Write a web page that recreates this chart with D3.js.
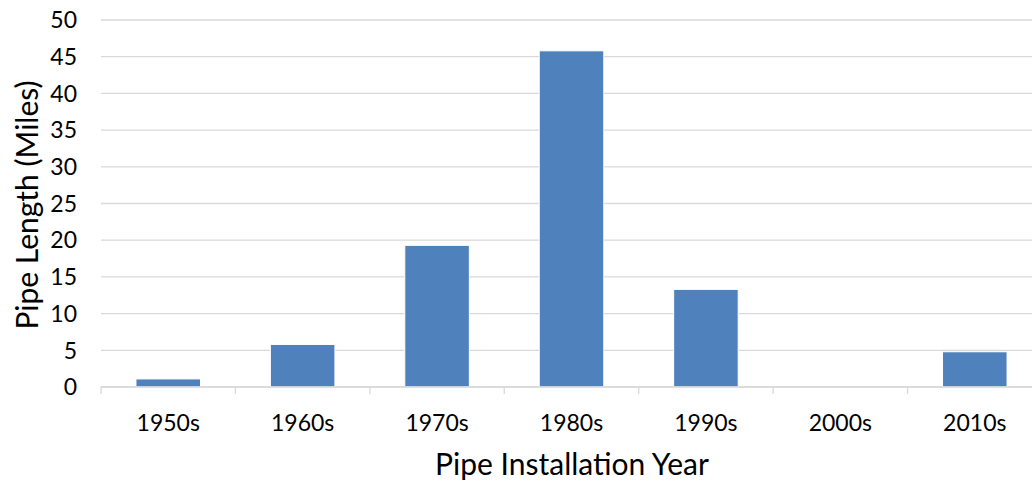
<!DOCTYPE html>
<meta charset="utf-8">
<style>
    body { margin: 0; background: #fff; }
    text { font-family: Lato, "Open Sans", sans-serif; fill: #000; }
    .grid line { stroke: #d9d9d9; stroke-width: 1.3px; }
</style>
<script src="https://d3js.org/d3.v7.min.js"></script>
<svg width="1032" height="483"></svg>
<script>
    var decades = ["1950s", "1960s", "1970s", "1980s", "1990s", "2000s", "2010s"];
    var miles = [1.1, 5.8, 19.3, 45.8, 13.3, 0, 4.8];
    var yTicks = [0, 5, 10, 15, 20, 25, 30, 35, 40, 45, 50];

    var svg = d3.select("svg"),
        plotLeft = 101, plotRight = 1042, plotTop = 20, plotBottom = 387;

    var x = d3.scaleBand()
        .domain(decades)
        .range([plotLeft, plotRight])
        .paddingInner(0.52)
        .paddingOuter(0.26);

    var y = d3.scaleLinear().domain([0, 50]).range([plotBottom, plotTop]);

    // horizontal gridlines
    svg.append("g").attr("class", "grid")
        .selectAll("line")
        .data(yTicks)
        .enter().append("line")
        .attr("x1", plotLeft)
        .attr("x2", plotRight)
        .attr("y1", function (d) { return y(d); })
        .attr("y2", function (d) { return y(d); });

    // y labels
    svg.append("g")
        .selectAll("text")
        .data(yTicks)
        .enter().append("text")
        .attr("x", 77)
        .attr("y", function (d) { return y(d); })
        .attr("dy", "0.36em")
        .attr("text-anchor", "end")
        .style("font-size", "23px")
        .text(function (d) { return d; });

    // bars
    svg.append("g")
        .selectAll("rect")
        .data(miles)
        .enter().append("rect")
        .attr("x", function (d, i) { return x(decades[i]); })
        .attr("width", x.bandwidth())
        .attr("y", function (d) { return y(d); })
        .attr("height", function (d) { return plotBottom - y(d); })
        .attr("fill", "#4f81bd")
        .attr("stroke", "#fff")
        .attr("stroke-width", 1);

    // x axis line and ticks at category boundaries
    svg.append("line")
        .attr("x1", plotLeft).attr("x2", plotRight)
        .attr("y1", plotBottom).attr("y2", plotBottom)
        .attr("stroke", "#d9d9d9").attr("stroke-width", 1.3);

    var step = x.step();
    svg.append("g")
        .selectAll("line")
        .data(d3.range(decades.length + 1))
        .enter().append("line")
        .attr("x1", function (i) { return plotLeft + i * step; })
        .attr("x2", function (i) { return plotLeft + i * step; })
        .attr("y1", plotBottom)
        .attr("y2", plotBottom + 7)
        .attr("stroke", "#d9d9d9").attr("stroke-width", 1.3);

    svg.append("g")
        .selectAll("text")
        .data(decades)
        .enter().append("text")
        .attr("x", function (d) { return x(d) + x.bandwidth() / 2; })
        .attr("y", 431)
        .attr("text-anchor", "middle")
        .style("font-size", "23px")
        .text(function (d) { return d; });

    // axis titles
    svg.append("text")
        .attr("x", 572)
        .attr("y", 475)
        .attr("text-anchor", "middle")
        .style("font-size", "30px")
        .text("Pipe Installation Year");

    svg.append("text")
        .attr("transform", "translate(38,205) rotate(-90)")
        .attr("text-anchor", "middle")
        .style("font-size", "30px")
        .text("Pipe Length (Miles)");
</script>
